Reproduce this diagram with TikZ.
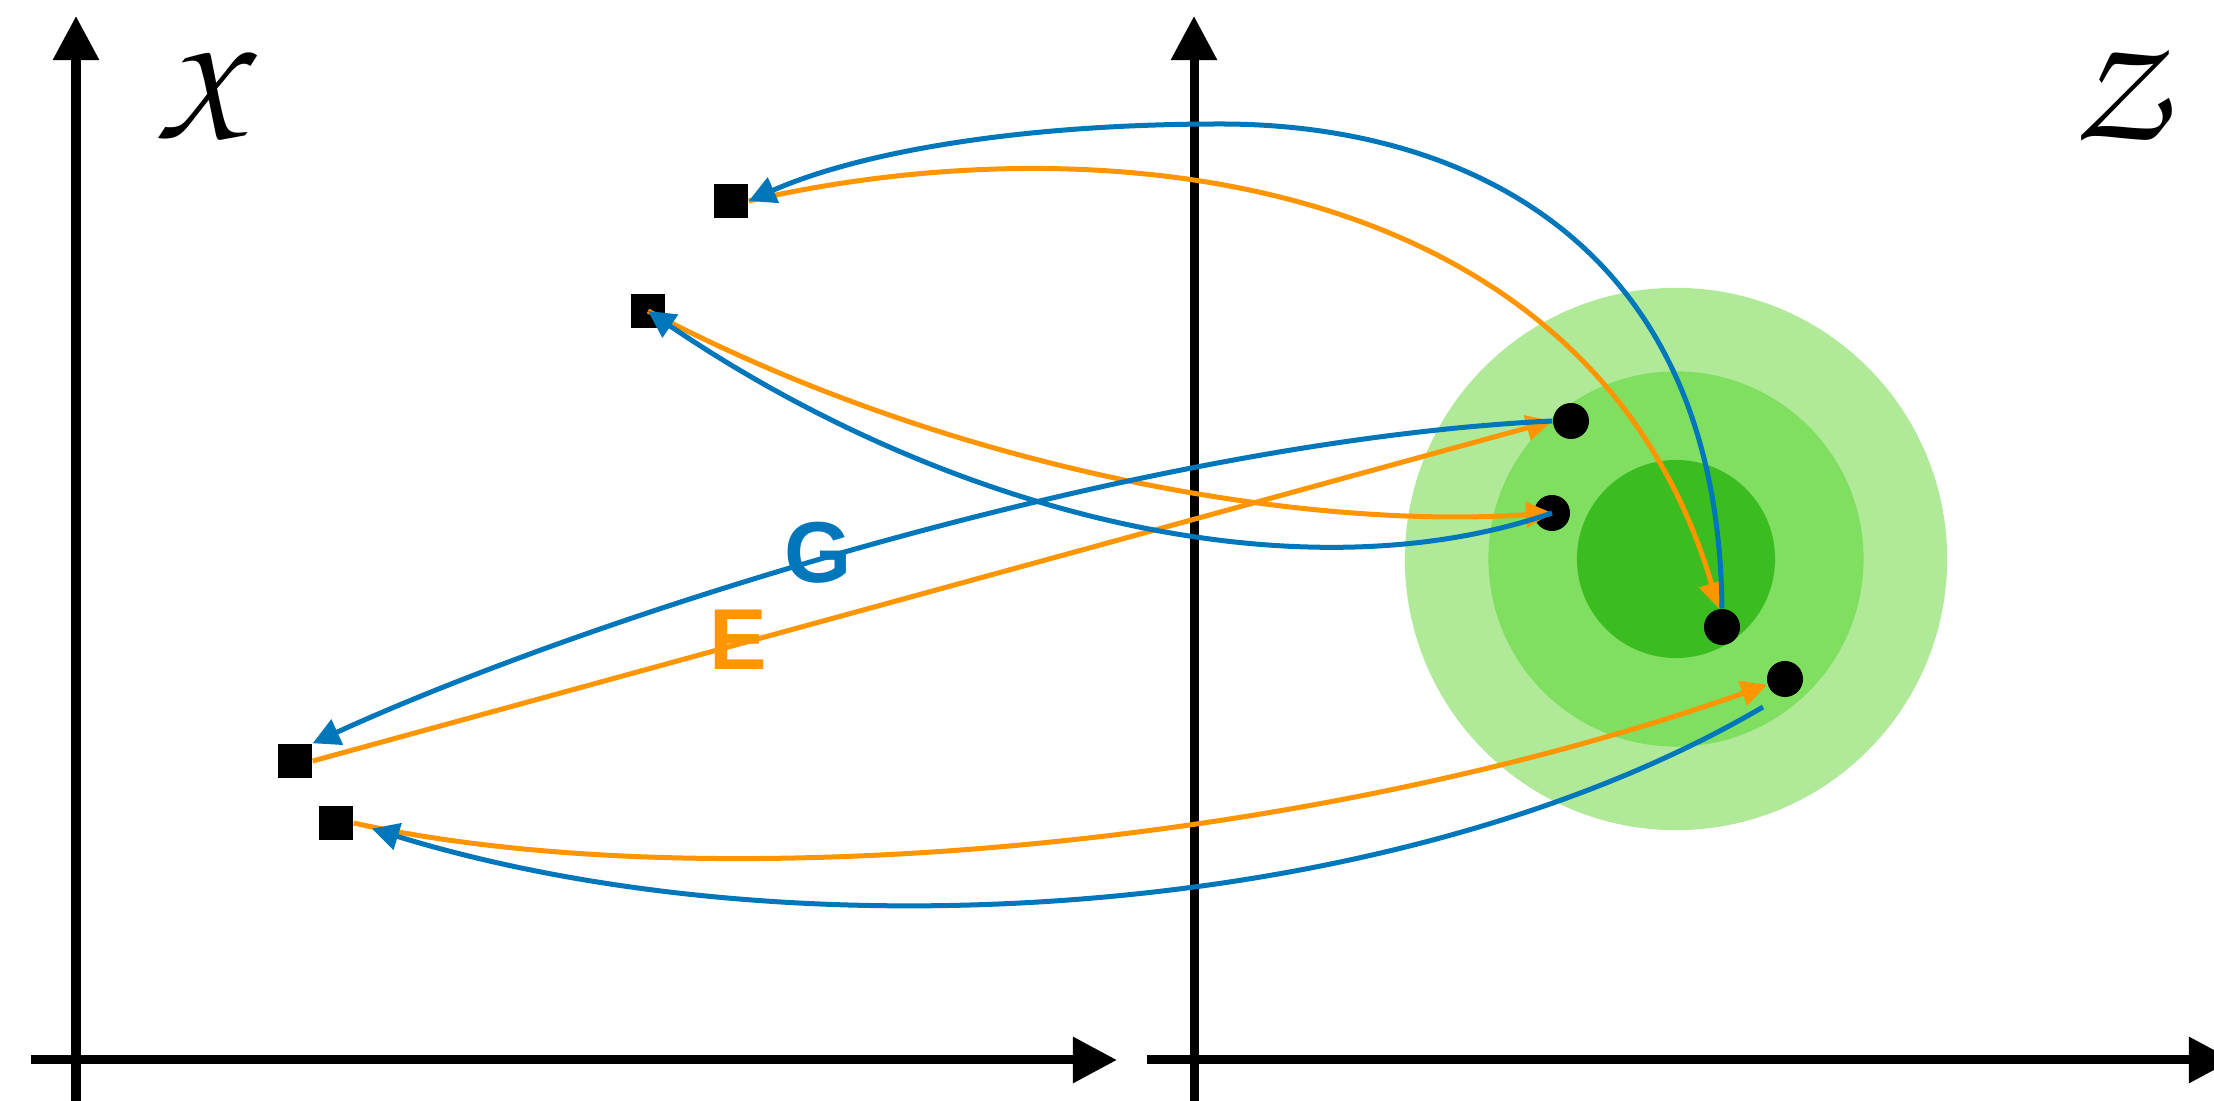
\documentclass[tikz,border=0pt]{standalone}
\usepackage[T1]{fontenc}
\usepackage{fontspec}
\usetikzlibrary{arrows.meta}
\newfontfamily\gefont{Liberation Sans}
\newcommand\chancery{\usefont{T1}{pzc}{mb}{it}}
\definecolor{cblue}{RGB}{0,119,187}
\definecolor{corange}{RGB}{255,149,0}
\definecolor{gout}{RGB}{176,234,152}
\definecolor{gmid}{RGB}{128,223,96}
\definecolor{gin}{RGB}{59,188,32}
\begin{document}
\begin{tikzpicture}[x=0.01cm,y=-0.01cm,
 axis/.style={line width=0.09cm, -{Triangle[length=0.44cm,width=0.44cm]}},
 sq/.style={fill=black, rectangle, minimum size=0.34cm, inner sep=0pt},
 pt/.style={fill=black, circle, minimum size=0.36cm, inner sep=0pt},
 zone/.style={circle, inner sep=0pt},
 gmap/.style={line width=0.05cm, cblue, -{Triangle[length=0.27cm,width=0.27cm]}},
 emap/.style={line width=0.05cm, corange, -{Triangle[length=0.26cm,width=0.25cm]}},
 lbl/.style={font=\gefont\bfseries\fontsize{24.6}{28}\selectfont, inner sep=0pt},
 space/.style={inner sep=0pt, font=\chancery\fontsize{42}{46}\selectfont}
]
\clip (0,0) rectangle (2214,1101);
% green zones
\node[zone, fill=gout, minimum size=5.42cm] (zone3) at (1676,559) {};
\node[zone, fill=gmid, minimum size=3.75cm] (zone2) at (1676,559) {};
\node[zone, fill=gin, minimum size=1.98cm] (zone1) at (1676,559) {};
% axes
\coordinate (xo1) at (76,1110);
\coordinate (xt1) at (76,16);
\coordinate (xo2) at (31,1060);
\coordinate (xt2) at (1117,1060);
\coordinate (zo1) at (1194,1110);
\coordinate (zt1) at (1194,16);
\coordinate (zo2) at (1147,1060);
\coordinate (zt2) at (2233,1060);
\draw[axis] (xo1) -- (xt1);
\draw[axis] (xo2) -- (xt2);
\draw[axis] (zo1) -- (zt1);
\draw[axis] (zo2) -- (zt2);
% labels
\node[space] (lx) at (200,94) {X};
\node[space] (lz) at (2118,94) {Z};
% points
\node[sq] (s1) at (731,201) {};
\node[sq] (s2) at (648,311) {};
\node[sq] (s3) at (295,761) {};
\node[sq] (s4) at (336,823) {};
\node[pt] (c1) at (1571,421) {};
\node[pt] (c2) at (1552,513) {};
\node[pt] (c3) at (1722,627) {};
\node[pt] (c4) at (1785,679) {};
% encoder E (orange)
\draw[emap] (s1.east) .. controls (1100,120) and (1590,170) .. (c3.100);
\draw[emap] (s2.center) .. controls (950,470) and (1300,530) .. (c2.center);
\draw[emap] (s3.east) -- (c1.west);
\draw[emap] (s4.east) .. controls (700,900) and (1300,850) .. (c4.198);
% generator G (blue)
\coordinate (b1top) at (1221,124);
\coordinate (b4s) at (1763,707);
\draw[gmap] (c3.north) .. controls (1718,230) and (1450,124) .. (b1top)
  .. controls (1020,124) and (860,152) .. (s1.east);
\draw[gmap] (c1.west) .. controls (1150,440) and (600,612) .. (s3.north east);
\draw[gmap] (c2.center) .. controls (1300,600) and (950,516) .. (s2.center);
\draw[gmap, shorten >=0.19cm] (b4s) .. controls (1400,920) and (800,960) .. (s4.east);
% letters
\node[lbl, text=cblue] (g) at (818,553) {G};
\node[lbl, text=corange] (e) at (738,640) {E};
\end{tikzpicture}
\end{document}
